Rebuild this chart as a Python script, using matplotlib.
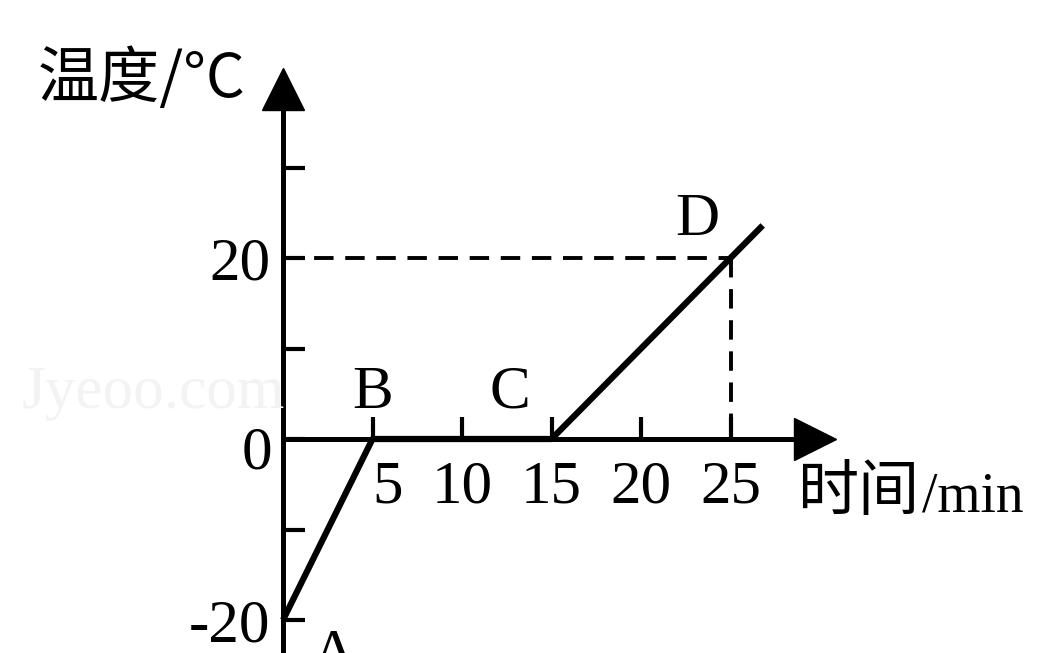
import matplotlib.pyplot as plt
import matplotlib.transforms as mtransforms

# heating curve: temperature vs time
times = [0, 5, 15, 25, 26.8]
temps = [-20, 0, 0, 20, 23.6]
point_names = ['A', 'B', 'C', 'D']
point_x = [0, 5, 15, 25]
point_y = [-20, 0, 0, 20]
xticks = [5, 10, 15, 20, 25]
xtick_labels = ['5', '10', '15', '20', '25']
yticks = [-20, -10, 0, 10, 20, 30]
ytick_labels = ['-20', '', '0', '', '20', '']

W, H = 1040, 653
x0, y0 = 283, 439          # pixel position of the origin
px_x, px_y = 17.9, 9.05    # pixels per data unit

fig = plt.figure(figsize=(W / 100, H / 100), dpi=100)
ax = fig.add_axes([0, 0, 1, 1])
ax.set_xlim(-x0 / px_x, (W - x0) / px_x)
ax.set_ylim(-(H - y0) / px_y, y0 / px_y)

serif = 'Liberation Serif'
cjk = ['Noto Sans CJK SC', 'DejaVu Sans']

# axes through the origin
for s in ['top', 'right']:
    ax.spines[s].set_visible(False)
ax.spines['left'].set_position(('data', 0))
ax.spines['bottom'].set_position(('data', 0))
ax.spines['left'].set_bounds(-30, 38)
ax.spines['bottom'].set_bounds(0, 29)
for s in ['left', 'bottom']:
    ax.spines[s].set_linewidth(3.6)
    ax.spines[s].set_zorder(3)

ax.set_xticks(xticks)
ax.set_xticklabels(xtick_labels, fontfamily=serif, fontsize=44)
ax.set_yticks(yticks)
ax.set_yticklabels(ytick_labels, fontfamily=serif, fontsize=44)
ax.tick_params(axis='both', direction='in', length=16, width=3)
ax.tick_params(axis='x', pad=15)
ax.tick_params(axis='y', pad=9)

# first x label sits a bit to the right of its tick
lab = ax.get_xticklabels()[0]
lab.set_transform(lab.get_transform() + mtransforms.ScaledTranslation(0.15, 0, fig.dpi_scale_trans))
# "0" label sits slightly below the axis
lab0 = ax.get_yticklabels()[2]
lab0.set_transform(lab0.get_transform() + mtransforms.ScaledTranslation(0.02, -0.08, fig.dpi_scale_trans))

# arrow heads
ax.plot([0], [38.7], marker='^', markersize=30, color='black', clip_on=False, zorder=4)
ax.plot([29.7], [0], marker='>', markersize=30, color='black', clip_on=False, zorder=4)

# curve
ax.plot(times, temps, color='black', linewidth=4.5, solid_capstyle='butt', zorder=5)

# dashed guides to D
ax.plot([0, 25], [20, 20], color='black', linewidth=2.8, linestyle=(0, (5, 3)))
ax.plot([25, 25], [20, 0], color='black', linewidth=2.8, linestyle=(0, (5, 3)))

# point labels
offsets = [(36, -26), (0, 33), (-30, 33), (-24, 27)]
for name, px, py, off in zip(point_names, point_x, point_y, offsets):
    ax.annotate(name, (px, py), xytext=off, textcoords='offset points',
                ha='center', va='center', fontfamily=serif, fontsize=44)

# axis titles
fig.text(38 / W, 1 - 80 / H, '温度/°C', family=cjk, fontsize=44, ha='left', va='center')
fig.text(797 / W, 1 - 493 / H, '时间', family=cjk, fontsize=44, ha='left', va='center')
fig.text(922 / W, 1 - 497 / H, '/min', family=serif, fontsize=40, ha='left', va='center')

# faint watermark
fig.text(22 / W, 1 - 393 / H, 'Jyeoo.com', family=serif, fontsize=44, color='#f3f3f3',
         ha='left', va='center', zorder=0)

fig.savefig('out.png', dpi=100)
